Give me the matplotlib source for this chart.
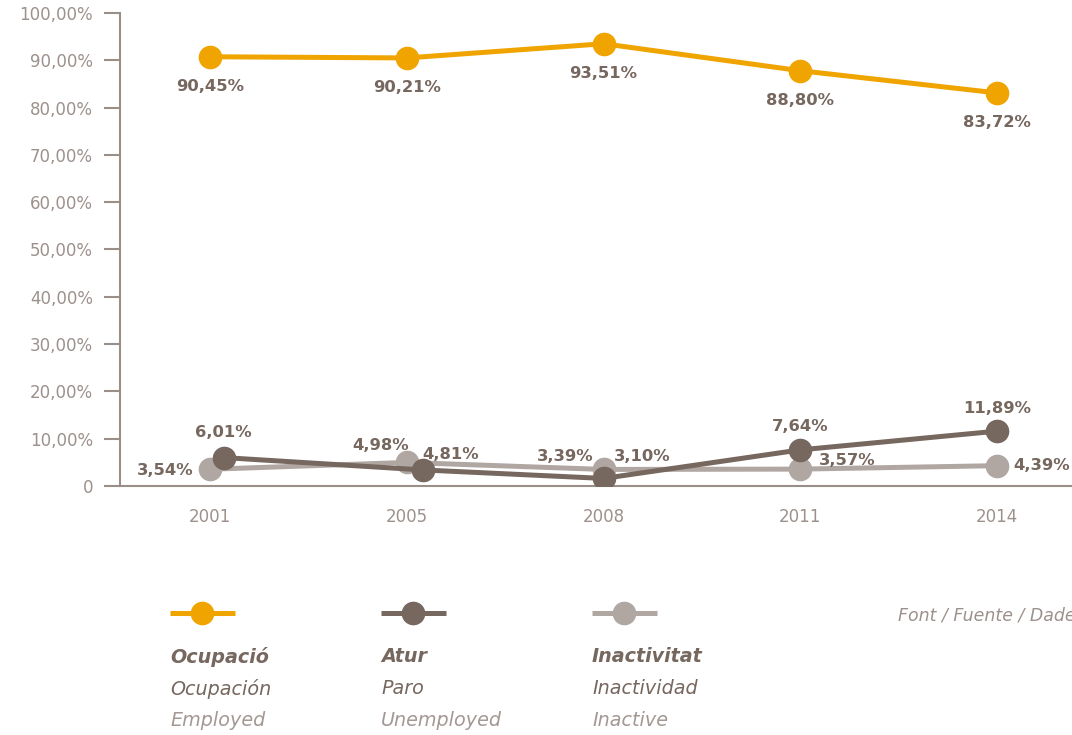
import matplotlib
matplotlib.use("Agg")
import matplotlib.pyplot as plt
from matplotlib.lines import Line2D
import numpy as np

years = ["2001", "2005", "2008", "2011", "2014"]
ocupacio = [90.75, 90.5, 93.5, 87.8, 83.1]
atur = [6.01, 3.4, 1.6, 7.64, 11.6]
inactivitat = [3.54, 4.98, 3.5, 3.57, 4.3]
atur_x = [0.07, 1.08, 2.0, 3.0, 4.0]

ocupacio_labels = ["90,45%", "90,21%", "93,51%", "88,80%", "83,72%"]
atur_labels = ["6,01%", "4,81%", "3,10%", "7,64%", "11,89%"]
inactivitat_labels = ["3,54%", "4,98%", "3,39%", "3,57%", "4,39%"]
yticks = [0, 10, 20, 30, 40, 50, 60, 70, 80, 90, 100]
ytick_labels = ["0"] + [f"{v},00%" for v in yticks[1:]]

C_OC = "#F0A400"
C_AT = "#76675F"
C_IN = "#B0A7A3"
C_TXT = "#76675F"
C_TICK = "#9C918C"
C_AX = "#9A8E89"

plt.rcParams['font.family'] = ['DejaVu Sans']

fig = plt.figure(figsize=(10.72, 7.35), dpi=100)
ax = fig.add_axes([120/1072, 1-486/735, 1-120/1072, (486-13)/735])
x = np.arange(len(years))

lw = 3.6
ms = 16
ax.plot(x, inactivitat, color=C_IN, lw=lw, marker="o", ms=ms, zorder=3)
ax.plot(atur_x, atur, color=C_AT, lw=lw, marker="o", ms=ms, zorder=4)
ax.plot(x, ocupacio, color=C_OC, lw=lw, marker="o", ms=ms, zorder=4)

ax.set_xlim(-0.457, 4.38)
ax.set_ylim(0, 100)
ax.set_yticks(yticks)
ax.set_yticklabels(ytick_labels)
ax.set_xticks(x)
ax.set_xticklabels(years)
for s in ["top", "right"]:
    ax.spines[s].set_visible(False)
for s in ["left", "bottom"]:
    ax.spines[s].set_color(C_AX)
    ax.spines[s].set_linewidth(1.5)
ax.tick_params(axis="y", length=11.5, width=1.5, color=C_AX, pad=8,
               labelsize=12, labelcolor=C_TICK)
ax.tick_params(axis="x", length=0, pad=16, labelsize=12, labelcolor=C_TICK)

lab_kw = dict(textcoords="offset points", fontsize=11.8, fontweight="bold",
              color=C_TXT, ha="center", va="center", zorder=6)

for i in range(5):
    ax.annotate(ocupacio_labels[i], (x[i], ocupacio[i]), xytext=(0, -21.5), **lab_kw)

at_off = [(0, 18), (20, 11), (28, 16), (0, 17), (0, 16)]
for i in range(5):
    ax.annotate(atur_labels[i], (atur_x[i], atur[i]), xytext=at_off[i], **lab_kw)

in_off = [(-32, -1), (-19, 12), (-28, 9), (34, 6), (32, 0)]
for i in range(5):
    ax.annotate(inactivitat_labels[i], (x[i], inactivitat[i]), xytext=in_off[i], **lab_kw)

# legend
leg = [
    (170, C_OC, ["Ocupació", "Ocupación", "Employed"]),
    (381, C_AT, ["Atur", "Paro", "Unemployed"]),
    (592, C_IN, ["Inactivitat", "Inactividad", "Inactive"]),
]
W, H = 1072, 735
for x0, col, texts in leg:
    yl = 1 - 613/H
    fig.add_artist(Line2D([x0/W, (x0+65)/W], [yl, yl], color=col, lw=lw,
                          solid_capstyle="butt"))
    fig.add_artist(Line2D([(x0+32)/W], [yl], color=col, marker="o", ms=16, lw=0))
    fig.text(x0/W, 1-657/H, texts[0], fontsize=13.8, fontweight="bold", style="italic",
             color=C_TXT, ha="left", va="center")
    fig.text(x0/W, 1-689/H, texts[1], fontsize=13.8, style="italic",
             color=C_TXT, ha="left", va="center")
    fig.text(x0/W, 1-720/H, texts[2], fontsize=13.8, style="italic",
             color="#A39893", ha="left", va="center")

fig.text(898/W, 1-616/H, "Font / Fuente / Dades", fontsize=12.5, style="italic",
         color=C_TICK, ha="left", va="center")

fig.savefig("out.png", dpi=100)
